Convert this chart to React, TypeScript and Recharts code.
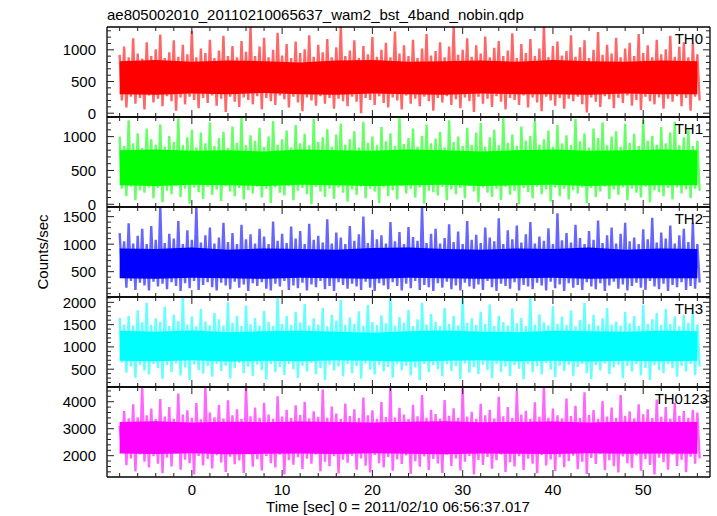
import React from "react";
import { ComposedChart, Line, Area, XAxis, YAxis } from "recharts";

const FONT = "'Liberation Sans', Arial, Helvetica, sans-serif";
const W = 717;
const H = 516;
const PLOT_TOP = 27;
const PANEL_H = 90;

const titleText = "ae805002010_20110210065637_wam2_bst_4band_nobin.qdp";
const xTitle = "Time [sec] 0 = 2011/02/10 06:56:37.017";
const yTitle = "Counts/sec";

// sample grid (sec): a peak sample then a dip sample every 0.5 s
const timeStart = -8;
const timeStep = 0.5;
const timeDomain = [-9.4, 57.4];
const timeTicks = [-8, -6, -4, -2, 0, 2, 4, 6, 8, 10, 12, 14, 16, 18, 20, 22, 24, 26, 28, 30, 32, 34, 36, 38, 40, 42, 44, 46, 48, 50, 52, 54, 56];
const timeLabels = [0, 10, 20, 30, 40, 50];

// times of the dense core band estimates
const coreTimes = [-8, -4, 0, 4, 8, 12, 16, 20, 24, 28, 32, 36, 40, 44, 48, 52, 56];

// TH0
const th0Hi = [
  920, 1050, 880, 1180, 940, 860, 1120, 900, 1010, 1240,
  870, 960, 1150, 890, 1080, 930, 1300, 880, 1020, 950,
  1160, 870, 990, 1220, 900, 1060, 880, 1140, 970, 1380,
  900, 1050, 1190, 880, 1000, 1270, 910, 1090, 870, 1130,
  950, 1010, 1230, 890, 1080, 960, 1170, 880, 1040, 1380,
  900, 990, 1150, 870, 1060, 930, 1200, 890, 1000, 1110,
  880, 1290, 940, 1070, 900, 1160, 870, 1020, 1250, 910,
  980, 1120, 880, 1050, 1380, 920, 1000, 1180, 890, 1070,
  940, 1210, 880, 1030, 1140, 900, 990, 1260, 870, 1090,
  950, 1170, 900, 1020, 1380, 880, 1060, 1130, 910, 980,
  1230, 890, 1040, 1150, 870, 1000, 1280, 920, 1080, 940,
  1190, 880, 1020, 1110, 900, 1250, 950, 1070, 880, 1160,
  930, 1010, 1220, 890, 1050, 1120, 880, 1100, 930,
];
const th0Lo = [
  200, 90, 260, 150, 240, 60, 280, 170, 230, 110,
  270, 190, 40, 250, 140, 260, 210, 80, 240, 160,
  280, 120, 230, 20, 260, 180, 100, 250, 210, 140,
  270, 60, 240, 190, 130, 280, 220, 90, 260, 170,
  30, 250, 200, 120, 270, 150, 240, 70, 230, 190,
  110, 260, 180, 0, 240, 210, 130, 270, 160, 90,
  250, 200, 60, 280, 150, 230, 110, 260, 190, 40,
  240, 170, 270, 130, 220, 80, 250, 190, 20, 260,
  150, 230, 100, 270, 180, 60, 240, 210, 130, 280,
  90, 250, 170, 30, 260, 200, 120, 240, 70, 230,
  190, 260, 140, 10, 250, 180, 100, 270, 220, 80,
  240, 160, 280, 120, 210, 50, 260, 190, 140, 250,
  70, 230, 180, 270, 110, 240, 40, 260, 200,
];
const th0CoreHi = [820, 840, 810, 830, 820, 800, 830, 840, 810, 820, 830, 810, 840, 820, 810, 830, 820];
const th0CoreLo = [300, 290, 310, 300, 320, 300, 290, 310, 300, 290, 310, 300, 300, 290, 310, 300, 300];

// TH1
const th1Hi = [
  1000, 860, 1240, 900, 1050, 830, 1120, 960, 880, 1180,
  850, 1010, 920, 1270, 870, 990, 1100, 840, 1060, 900,
  1210, 860, 980, 1070, 830, 1150, 910, 1290, 870, 1020,
  940, 1130, 850, 1000, 1230, 880, 960, 1090, 840, 1170,
  900, 1040, 870, 1260, 920, 990, 1110, 850, 1030, 1190,
  880, 960, 1080, 840, 1220, 910, 1000, 870, 1140, 930,
  1050, 860, 1290, 890, 980, 1120, 850, 1010, 1180, 900,
  970, 1070, 840, 1240, 920, 1000, 860, 1130, 880, 1060,
  1200, 850, 990, 1100, 870, 1280, 910, 1030, 860, 1150,
  940, 1010, 1230, 880, 960, 1090, 850, 1170, 900, 1020,
  870, 1260, 930, 1050, 840, 1120, 980, 1210, 870, 1000,
  1080, 850, 1190, 910, 1040, 860, 1250, 940, 1010, 880,
  1140, 900, 1060, 1220, 870, 990, 1110, 860, 940,
];
const th1Lo = [
  230, 120, 260, 60, 210, 170, 250, 90, 240, 30,
  200, 150, 270, 110, 230, 10, 250, 180, 80, 260,
  140, 220, 50, 270, 190, 120, 240, 70, 210, 160,
  260, 100, 230, 20, 250, 170, 130, 270, 60, 200,
  240, 150, 0, 260, 190, 110, 230, 80, 250, 170,
  40, 220, 140, 260, 90, 230, 190, 20, 250, 120,
  210, 70, 270, 160, 230, 100, 250, 10, 200, 180,
  130, 260, 60, 220, 150, 240, 90, 270, 190, 30,
  250, 170, 110, 230, 60, 260, 140, 200, 0, 240,
  180, 90, 260, 150, 220, 40, 250, 120, 230, 70,
  210, 160, 250, 20, 240, 110, 190, 260, 80, 220,
  140, 250, 60, 230, 170, 100, 260, 30, 210, 180,
  120, 240, 70, 250, 160, 220, 90, 230, 200,
];
const th1CoreHi = [800, 810, 790, 800, 780, 810, 800, 790, 810, 800, 780, 800, 810, 790, 800, 810, 800];
const th1CoreLo = [280, 270, 290, 280, 270, 290, 280, 270, 280, 290, 270, 280, 290, 270, 280, 280, 280];

// TH2
const th2Hi = [
  1200, 1050, 1380, 1010, 1150, 1280, 1000, 1330, 1080, 1680,
  1020, 1190, 1100, 1420, 1000, 1250, 1080, 1680, 1030, 1160,
  1300, 1010, 1120, 1390, 1040, 1200, 1000, 1350, 1090, 1180,
  1010, 1280, 1140, 1000, 1410, 1060, 1190, 1020, 1320, 1100,
  1240, 1000, 1370, 1080, 1150, 1030, 1450, 1010, 1210, 1120,
  1000, 1330, 1060, 1180, 1500, 1020, 1260, 1090, 1160, 1010,
  1400, 1050, 1220, 1000, 1310, 1130, 1060, 1680, 1020, 1190,
  1280, 1010, 1110, 1360, 1040, 1230, 1000, 1420, 1080, 1170,
  1020, 1300, 1120, 1050, 1470, 1000, 1250, 1090, 1340, 1030,
  1180, 1400, 1010, 1140, 1060, 1290, 1000, 1560, 1070, 1200,
  1030, 1350, 1110, 1000, 1240, 1080, 1430, 1020, 1160, 1300,
  1010, 1190, 1390, 1050, 1120, 1000, 1270, 1090, 1480, 1030,
  1210, 1100, 1340, 1010, 1160, 1280, 1040, 1390, 1000,
];
const th2Lo = [
  520, 210, 330, 170, 300, 250, 160, 320, 230, 280,
  180, 310, 240, 150, 290, 200, 330, 170, 260, 310,
  220, 160, 300, 250, 180, 320, 210, 270, 150, 290,
  240, 310, 190, 160, 280, 230, 330, 170, 250, 200,
  300, 160, 270, 220, 330, 180, 240, 150, 310, 260,
  190, 280, 230, 170, 320, 210, 150, 290, 250, 180,
  310, 240, 160, 280, 200, 330, 170, 260, 220, 150,
  290, 210, 320, 180, 250, 160, 300, 230, 190, 270,
  170, 330, 220, 150, 280, 240, 190, 310, 160, 260,
  230, 180, 300, 250, 160, 320, 200, 270, 150, 290,
  210, 260, 170, 310, 230, 180, 290, 150, 250, 320,
  190, 270, 160, 240, 300, 210, 170, 330, 230, 180,
  280, 150, 260, 220, 310, 170, 240, 190, 300,
];
const th2CoreHi = [920, 910, 940, 900, 920, 910, 900, 930, 940, 910, 900, 920, 910, 940, 900, 920, 910];
const th2CoreLo = [380, 370, 390, 380, 370, 390, 380, 370, 390, 380, 370, 380, 390, 370, 380, 380, 380];

// TH3
const th3Hi = [
  1650, 1500, 1700, 1480, 1820, 1550, 1990, 1490, 1640, 1560,
  1900, 1470, 1720, 1580, 2130, 1500, 1680, 1460, 1850, 1570,
  1490, 1760, 1620, 1480, 2000, 1540, 1700, 1470, 1930, 1510,
  1650, 1480, 1810, 1560, 1470, 2130, 1520, 1690, 1490, 1780,
  1550, 1960, 1480, 1640, 1500, 1870, 1460, 1720, 1590, 2050,
  1490, 1660, 1520, 1800, 1470, 1940, 1560, 1490, 1710, 1530,
  2130, 1480, 1670, 1540, 1830, 1470, 1620, 1990, 1500, 1740,
  1560, 1470, 1880, 1520, 1690, 1480, 2130, 1540, 1640, 1490,
  1790, 1510, 1950, 1470, 1700, 1560, 1480, 1860, 1530, 1650,
  1470, 2100, 1500, 1730, 1550, 1480, 1910, 1520, 1680, 1490,
  1820, 1460, 1600, 1990, 1510, 1720, 1480, 1640, 1870, 1500,
  1570, 1480, 1780, 1530, 1690, 1470, 1940, 1520, 1620, 1760,
  1490, 1850, 1510, 1680, 1460, 1720, 1540, 1800, 1500,
];
const th3Lo = [
  650, 420, 560, 310, 600, 470, 380, 620, 520, 280,
  590, 440, 630, 360, 540, 250, 610, 480, 400, 570,
  330, 620, 460, 580, 290, 530, 640, 410, 560, 350,
  600, 480, 270, 620, 430, 550, 370, 610, 500, 300,
  580, 450, 640, 390, 520, 260, 600, 470, 560, 340,
  620, 410, 570, 290, 630, 490, 380, 600, 450, 550,
  310, 610, 470, 580, 360, 540, 250, 620, 430, 590,
  500, 340, 610, 460, 570, 280, 630, 420, 550, 390,
  600, 480, 300, 620, 440, 560, 350, 590, 510, 270,
  610, 430, 570, 380, 640, 490, 320, 580, 460, 600,
  350, 550, 620, 410, 280, 590, 470, 630, 390, 540,
  600, 300, 570, 450, 620, 360, 530, 260, 590, 480,
  410, 610, 520, 330, 580, 450, 620, 370, 560,
];
const th3CoreHi = [1360, 1340, 1370, 1330, 1350, 1360, 1340, 1320, 1350, 1370, 1340, 1330, 1360, 1350, 1340, 1360, 1350];
const th3CoreLo = [690, 680, 700, 670, 690, 680, 700, 690, 670, 690, 700, 680, 690, 670, 690, 680, 690];

// TH0123
const th0123Hi = [
  3100, 3650, 3380, 3900, 3420, 4550, 3500, 3750, 3360, 4100,
  3450, 3800, 3370, 4300, 3520, 3680, 3400, 3950, 3350, 4550,
  3600, 3420, 3880, 3380, 4050, 3500, 3720, 3360, 4550, 3460,
  3780, 3400, 3960, 3520, 3370, 4200, 3450, 3700, 3390, 3870,
  3510, 4000, 3380, 3640, 3440, 4450, 3400, 3820, 3560, 3360,
  3930, 3470, 3720, 3390, 4150, 3500, 3680, 3370, 3990, 3430,
  4550, 3410, 3770, 3520, 3360, 3890, 3460, 4250, 3400, 3700,
  3540, 3380, 4060, 3480, 3760, 3400, 4550, 3450, 3630, 3370,
  3920, 3500, 3700, 3380, 4180, 3460, 3800, 3390, 4400, 3520,
  3660, 3370, 3980, 3440, 4550, 3400, 3750, 3500, 3380, 4120,
  3470, 3850, 3390, 4350, 3510, 3690, 3370, 4020, 3450, 3780,
  3400, 4250, 3480, 3640, 3380, 3900, 3530, 3720, 3390, 4080,
  3440, 3800, 3370, 3960, 3480, 3650, 3400, 3700, 3600,
];
const th0123Lo = [
  2200, 1650, 1900, 1420, 2050, 1780, 1560, 1980, 1700, 1350,
  1930, 1600, 2080, 1480, 1850, 1720, 1300, 1990, 1640, 1880,
  1530, 2020, 1750, 1400, 1960, 1680, 1820, 1360, 2060, 1590,
  1870, 1450, 1990, 1720, 1560, 2040, 1300, 1830, 1670, 1940,
  1510, 1890, 1700, 2050, 1420, 1780, 1610, 1980, 1340, 1850,
  1740, 2000, 1480, 1900, 1630, 1380, 2030, 1720, 1560, 1950,
  1440, 1860, 1690, 2010, 1320, 1800, 1590, 1970, 1470, 1880,
  1710, 1360, 2040, 1620, 1900, 1450, 1780, 1990, 1300, 1840,
  1660, 1950, 1520, 1830, 2050, 1400, 1760, 1600, 1980, 1470,
  1890, 1700, 1350, 2020, 1640, 1860, 1430, 1940, 1570, 1800,
  2000, 1500, 1780, 1320, 1920, 1690, 2060, 1460, 1830, 1610,
  1380, 1970, 1720, 1550, 2010, 1440, 1870, 1660, 1300, 1930,
  1760, 1480, 2040, 1620, 1850, 1390, 1960, 1700, 1900,
];
const th0123CoreHi = [3250, 3280, 3230, 3260, 3240, 3270, 3250, 3230, 3260, 3280, 3240, 3250, 3270, 3230, 3260, 3250, 3250];
const th0123CoreLo = [2080, 2060, 2090, 2050, 2070, 2080, 2060, 2090, 2070, 2050, 2080, 2070, 2060, 2090, 2070, 2080, 2070];

// y axis ticks per panel
const th0Ticks = [0, 100, 200, 300, 400, 500, 600, 700, 800, 900, 1000, 1100, 1200, 1300];
const th1Ticks = [0, 100, 200, 300, 400, 500, 600, 700, 800, 900, 1000, 1100, 1200];
const th2Ticks = [100, 200, 300, 400, 500, 600, 700, 800, 900, 1000, 1100, 1200, 1300, 1400, 1500, 1600];
const th3Ticks = [200, 300, 400, 500, 600, 700, 800, 900, 1000, 1100, 1200, 1300, 1400, 1500, 1600, 1700, 1800, 1900, 2000, 2100];
const th0123Ticks = [1400, 1600, 1800, 2000, 2200, 2400, 2600, 2800, 3000, 3200, 3400, 3600, 3800, 4000, 4200, 4400];

const panels = [
  { name: "TH0", color: "#ff0000", hi: th0Hi, lo: th0Lo, coreHi: th0CoreHi, coreLo: th0CoreLo, domain: [-60, 1360], ticks: th0Ticks, labels: [0, 500, 1000], nameRight: 703 },
  { name: "TH1", color: "#00ff00", hi: th1Hi, lo: th1Lo, coreHi: th1CoreHi, coreLo: th1CoreLo, domain: [-40, 1290], ticks: th1Ticks, labels: [0, 500, 1000], nameRight: 703 },
  { name: "TH2", color: "#0000ff", hi: th2Hi, lo: th2Lo, coreHi: th2CoreHi, coreLo: th2CoreLo, domain: [40, 1675], ticks: th2Ticks, labels: [500, 1000, 1500], nameRight: 703 },
  { name: "TH3", color: "#00ffff", hi: th3Hi, lo: th3Lo, coreHi: th3CoreHi, coreLo: th3CoreLo, domain: [100, 2120], ticks: th3Ticks, labels: [500, 1000, 1500, 2000], nameRight: 703 },
  { name: "TH0123", color: "#ff00ff", hi: th0123Hi, lo: th0123Lo, coreHi: th0123CoreHi, coreLo: th0123CoreLo, domain: [1210, 4545], ticks: th0123Ticks, labels: [2000, 3000, 4000], nameRight: 708 },
];

const frameLine = { stroke: "#000", strokeWidth: 1.3 };
const tickColor = "#222";

function LeftTick(props: any) {
  const { x, y, payload, labels } = props;
  const major = labels.includes(payload.value);
  return (
    <g>
      <line x1={x} x2={x + (major ? 7 : 4)} y1={y} y2={y} stroke={tickColor} />
      {major ? (
        <text x={x - 11} y={y} textAnchor="end" dominantBaseline="central" fontSize={15} fontFamily={FONT} fill="#000">
          {payload.value}
        </text>
      ) : null}
    </g>
  );
}

function RightTick(props: any) {
  const { x, y, payload, labels } = props;
  const major = labels.includes(payload.value);
  return <line x1={x} x2={x - (major ? 7 : 4)} y1={y} y2={y} stroke={tickColor} />;
}

function TopTick(props: any) {
  const { x, y, payload } = props;
  const major = timeLabels.includes(payload.value);
  return <line x1={x} x2={x} y1={y} y2={y + (major ? 7 : 4)} stroke={tickColor} />;
}

function BottomTick(props: any) {
  const { x, y, payload, showLabel } = props;
  const major = timeLabels.includes(payload.value);
  return (
    <g>
      <line x1={x} x2={x} y1={y} y2={y - (major ? 7 : 4)} stroke={tickColor} />
      {showLabel && major ? (
        <text x={x} y={y + 12} textAnchor="middle" dominantBaseline="central" fontSize={15} fontFamily={FONT} fill="#000">
          {payload.value}
        </text>
      ) : null}
    </g>
  );
}

function Panel({ p, index, last }: any) {
  const top = PLOT_TOP + index * PANEL_H;
  const n = Math.min(p.hi.length, p.lo.length);
  const rows: any[] = [];
  for (let i = 0; i < n; i++) {
    rows.push({ t: timeStart + i * timeStep, rate: p.hi[i] });
    rows.push({ t: timeStart + i * timeStep + timeStep / 2, rate: p.lo[i] });
  }
  coreTimes.forEach((t, i) => {
    rows.push({ t, core: [p.coreLo[i], p.coreHi[i]] });
  });
  rows.sort((a, b) => a.t - b.t);
  return (
    <div style={{ position: "absolute", left: 0, top: 0 }}>
      <ComposedChart
        width={W}
        height={H}
        data={rows}
        margin={{ top: top - 1, right: 6, bottom: H - top - PANEL_H - 1, left: 106 }}
      >
        <XAxis
          xAxisId="b"
          dataKey="t"
          type="number"
          domain={timeDomain}
          allowDataOverflow
          ticks={timeTicks}
          interval={0}
          tickSize={0}
          tickMargin={0}
          height={1}
          axisLine={frameLine}
          tickLine={false}
          tick={(props: any) => <BottomTick {...props} showLabel={last} />}
        />
        <XAxis
          xAxisId="t"
          orientation="top"
          dataKey="t"
          type="number"
          domain={timeDomain}
          allowDataOverflow
          ticks={timeTicks}
          interval={0}
          tickSize={0}
          tickMargin={0}
          height={1}
          axisLine={frameLine}
          tickLine={false}
          tick={(props: any) => <TopTick {...props} />}
        />
        <YAxis
          yAxisId="l"
          type="number"
          domain={p.domain}
          allowDataOverflow
          ticks={p.ticks}
          interval={0}
          tickSize={0}
          tickMargin={0}
          width={1}
          axisLine={frameLine}
          tickLine={false}
          tick={(props: any) => <LeftTick {...props} labels={p.labels} />}
        />
        <YAxis
          yAxisId="r"
          orientation="right"
          type="number"
          domain={p.domain}
          allowDataOverflow
          ticks={p.ticks}
          interval={0}
          tickSize={0}
          tickMargin={0}
          width={1}
          axisLine={frameLine}
          tickLine={false}
          tick={(props: any) => <RightTick {...props} labels={p.labels} />}
        />
        <Area
          xAxisId="b"
          yAxisId="l"
          type="linear"
          dataKey="core"
          connectNulls
          fill={p.color}
          fillOpacity={1}
          stroke="none"
          dot={false}
          activeDot={false}
          isAnimationActive={false}
        />
        <Line
          xAxisId="b"
          yAxisId="l"
          type="linear"
          dataKey="rate"
          connectNulls
          stroke={p.color}
          strokeWidth={2.4}
          strokeOpacity={0.6}
          strokeLinejoin="bevel"
          dot={false}
          activeDot={false}
          isAnimationActive={false}
        />
      </ComposedChart>
    </div>
  );
}

export default function App() {
  return (
    <div style={{ position: "absolute", left: 0, top: 0, width: W, height: H, background: "#fff" }}>
      {panels.map((p, i) => (
        <Panel key={p.name} p={p} index={i} last={i === panels.length - 1} />
      ))}
      <svg width={W} height={H} style={{ position: "absolute", left: 0, top: 0 }} fontFamily={FONT}>
        <text x={107} y={20} fontSize={15} fill="#000">
          {titleText}
        </text>
        <text x={398} y={512} fontSize={15} fill="#000" textAnchor="middle">
          {xTitle}
        </text>
        <text
          x={42}
          y={252}
          fontSize={15}
          fill="#000"
          textAnchor="middle"
          dominantBaseline="central"
          transform="rotate(-90 42 252)"
        >
          {yTitle}
        </text>
        {panels.map((p, i) => (
          <text
            key={p.name}
            x={p.nameRight}
            y={PLOT_TOP + i * PANEL_H + 11}
            fontSize={15}
            fill="#000"
            textAnchor="end"
            dominantBaseline="central"
          >
            {p.name}
          </text>
        ))}
      </svg>
    </div>
  );
}
